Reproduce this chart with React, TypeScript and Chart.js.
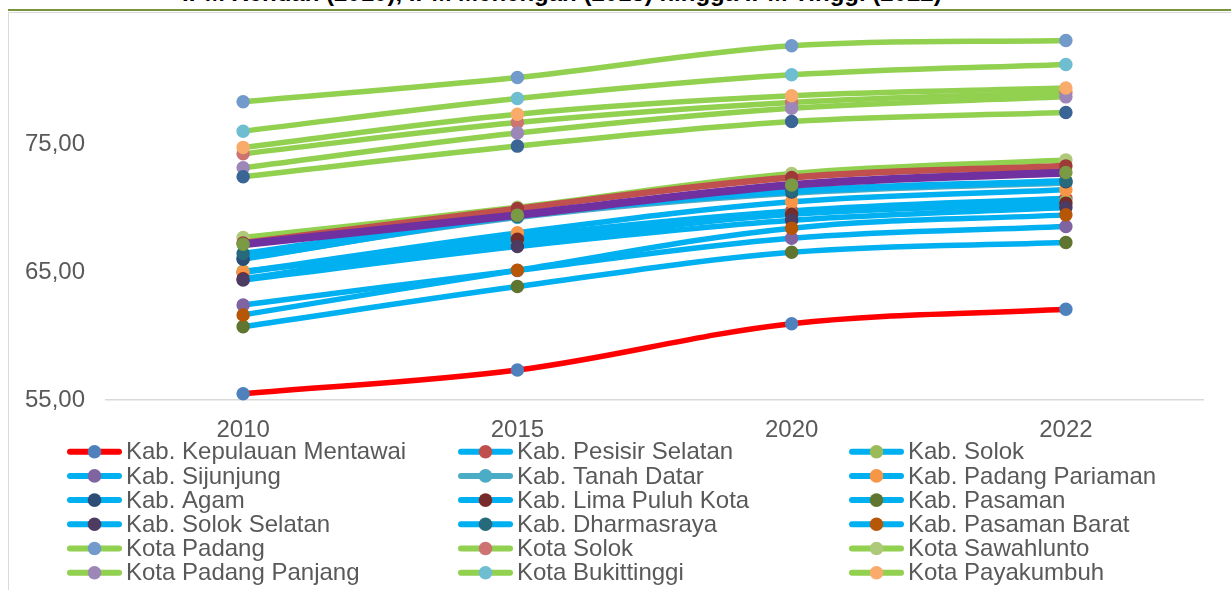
import React, { useEffect, useRef } from "react";
import { Chart, registerables } from "chart.js";

Chart.register(...registerables);

// ---------- data ----------
const years = ["2010", "2015", "2020", "2022"];
const yTickValues = [55, 65, 75];
const yMin = 55;
const yMax = 84;

const kepulauanMentawai = [55.49, 57.35, 60.98, 62.11];
const pesisirSelatan = [65.0, 67.8, 69.82, 70.82];
const kabSolok = [65.1, 67.3, 69.6, 70.6];
const sijunjung = [62.45, 65.15, 67.68, 68.6];
const tanahDatar = [66.1, 69.3, 71.2, 72.0];
const padangPariaman = [65.04, 68.1, 70.53, 71.47];
const agam = [66.03, 69.4, 71.3, 72.1];
const limaPuluhKota = [64.5, 67.6, 69.56, 70.43];
const pasaman = [60.75, 63.89, 66.58, 67.34];
const solokSelatan = [64.41, 67.03, 69.09, 70.08];
const dharmasraya = [66.48, 69.45, 71.4, 72.18];
const pasamanBarat = [61.67, 65.17, 68.47, 69.51];
const kotaPadang = [78.37, 80.28, 82.76, 83.18];
const kotaSolok = [74.3, 76.75, 78.32, 79.1];
const kotaSawahlunto = [67.73, 70.1, 72.75, 73.82];
const kotaPadangPanjang = [73.2, 75.92, 77.87, 78.76];
const kotaBukittinggi = [76.07, 78.63, 80.49, 81.3];
const kotaPayakumbuh = [74.8, 77.4, 78.84, 79.45];
const kotaPariaman = [72.5, 74.9, 76.83, 77.53];
const sumateraBarat = [67.3, 70.0, 72.44, 73.35];
const indonesia = [67.2, 69.49, 71.86, 72.83];

const FONT = '"Liberation Sans", Arial, sans-serif';
const TEXT = "#595959";
const CYAN = "#00B0F0";
const GREEN = "#92D050";

type Series = {
  name: string;
  values: number[];
  line: string;
  marker: string;
  width: number;
  inLegend: boolean;
};

const series: Series[] = [
  { name: "Kab. Kepulauan Mentawai", values: kepulauanMentawai, line: "#FF0000", marker: "#4F81BD", width: 5.5, inLegend: true },
  { name: "Kab. Pesisir Selatan", values: pesisirSelatan, line: CYAN, marker: "#C0504D", width: 5.5, inLegend: true },
  { name: "Kab. Solok", values: kabSolok, line: CYAN, marker: "#9BBB59", width: 5.5, inLegend: true },
  { name: "Kab. Sijunjung", values: sijunjung, line: CYAN, marker: "#8064A2", width: 5.5, inLegend: true },
  { name: "Kab. Tanah Datar", values: tanahDatar, line: "#4BACC6", marker: "#4BACC6", width: 5.5, inLegend: true },
  { name: "Kab. Padang Pariaman", values: padangPariaman, line: CYAN, marker: "#F79646", width: 5.5, inLegend: true },
  { name: "Kab. Agam", values: agam, line: CYAN, marker: "#2C4D75", width: 5.5, inLegend: true },
  { name: "Kab. Lima Puluh Kota", values: limaPuluhKota, line: CYAN, marker: "#772C2A", width: 5.5, inLegend: true },
  { name: "Kab. Pasaman", values: pasaman, line: CYAN, marker: "#5F7530", width: 5.5, inLegend: true },
  { name: "Kab. Solok Selatan", values: solokSelatan, line: CYAN, marker: "#4D3B62", width: 5.5, inLegend: true },
  { name: "Kab. Dharmasraya", values: dharmasraya, line: CYAN, marker: "#276A7C", width: 5.5, inLegend: true },
  { name: "Kab. Pasaman Barat", values: pasamanBarat, line: CYAN, marker: "#B65708", width: 5.5, inLegend: true },
  { name: "Kota Padang", values: kotaPadang, line: GREEN, marker: "#729ACA", width: 5.5, inLegend: true },
  { name: "Kota Solok", values: kotaSolok, line: GREEN, marker: "#CD7371", width: 5.5, inLegend: true },
  { name: "Kota Sawahlunto", values: kotaSawahlunto, line: GREEN, marker: "#AFC97A", width: 5.5, inLegend: true },
  { name: "Kota Padang Panjang", values: kotaPadangPanjang, line: GREEN, marker: "#9C87B8", width: 5.5, inLegend: true },
  { name: "Kota Bukittinggi", values: kotaBukittinggi, line: GREEN, marker: "#6FBDD1", width: 5.5, inLegend: true },
  { name: "Kota Payakumbuh", values: kotaPayakumbuh, line: GREEN, marker: "#F9AB6B", width: 5.5, inLegend: true },
  { name: "Kota Pariaman", values: kotaPariaman, line: GREEN, marker: "#3A6596", width: 5.5, inLegend: false },
  { name: "Sumatera Barat", values: sumateraBarat, line: "#C0504D", marker: "#9E3A38", width: 6.5, inLegend: false },
  { name: "Indonesia", values: indonesia, line: "#7030A0", marker: "#7A9A43", width: 8, inLegend: false },
];

const gridLegend = {
  id: "gridLegend",
  afterDraw(chart: any) {
    const { ctx, chartArea } = chart;
    const items = chart.data.datasets.filter((d: any) => d.inLegend);
    ctx.save();
    ctx.font = `24px ${FONT}`;
    ctx.textBaseline = "middle";
    ctx.textAlign = "left";
    items.forEach((ds: any, i: number) => {
      const col = i % 3;
      const row = Math.floor(i / 3);
      const x = chartArea.left - 39 + col * 391;
      const y = chartArea.bottom + 51.7 + row * 24.2;
      ctx.lineCap = "round";
      ctx.lineWidth = 6;
      ctx.strokeStyle = ds.borderColor;
      ctx.beginPath();
      ctx.moveTo(x + 3, y);
      ctx.lineTo(x + 52, y);
      ctx.stroke();
      ctx.fillStyle = ds.pointBackgroundColor;
      ctx.beginPath();
      ctx.arc(x + 27.5, y, 6.8, 0, Math.PI * 2);
      ctx.fill();
      ctx.fillStyle = TEXT;
      ctx.fillText(ds.label, x + 59, y + 1);
    });
    ctx.restore();
  },
};

export default function App() {
  const canvasRef = useRef<HTMLCanvasElement | null>(null);

  useEffect(() => {
    if (!canvasRef.current) return;
    const n = series.length;
    const chart = new Chart(canvasRef.current, {
      type: "line",
      data: {
        labels: years,
        datasets: series.map((s, i) => ({
          label: s.name,
          data: s.values,
          borderColor: s.line,
          backgroundColor: s.line,
          borderWidth: s.width,
          pointBackgroundColor: s.marker,
          pointBorderColor: s.marker,
          pointBorderWidth: 1.5,
          pointRadius: 6,
          pointHoverRadius: 6,
          tension: 0.35,
          fill: false,
          clip: false,
          order: n - i,
          inLegend: s.inLegend,
        })) as any,
      },
      options: {
        responsive: false,
        animation: false,
        devicePixelRatio: 1,
        layout: { padding: { left: 0, right: 28, top: 17, bottom: 150 } },
        plugins: {
          legend: { display: false },
          tooltip: { enabled: false },
          title: { display: false },
        },
        scales: {
          x: {
            type: "category",
            offset: true,
            grid: { display: false, drawTicks: false, tickLength: 0 },
            border: { display: true, color: "#D9D9D9", width: 1.5 },
            ticks: { color: TEXT, font: { family: FONT, size: 24 }, padding: 16, maxRotation: 0 },
            afterFit: (scale: any) => {
              scale.height = 40;
              scale.paddingLeft = 0;
              scale.paddingRight = 0;
            },
          },
          y: {
            type: "linear",
            min: yMin,
            max: yMax,
            grid: { display: false, drawTicks: false, tickLength: 0 },
            border: { display: false },
            ticks: {
              color: TEXT,
              font: { family: FONT, size: 24 },
              padding: 21,
              callback: (v: any) => Number(v).toFixed(2).replace(".", ","),
            },
            afterBuildTicks: (scale: any) => {
              scale.ticks = yTickValues.map((v) => ({ value: v }));
            },
            afterFit: (scale: any) => {
              scale.width = 97;
              scale.paddingTop = 0;
              scale.paddingBottom = 0;
            },
          },
        },
      },
      plugins: [gridLegend],
    });
    return () => chart.destroy();
  }, []);

  return (
    <div
      style={{
        position: "fixed",
        left: 0,
        top: 0,
        width: 1231,
        height: 590,
        overflow: "hidden",
        background: "#FFFFFF",
      }}
    >
      <div
        style={{
          position: "absolute",
          top: -19,
          left: 182,
          whiteSpace: "nowrap",
          font: `bold 24px ${FONT}`,
          lineHeight: "24px",
          color: "#000000",
        }}
      >
        IPM Rendah (2010), IPM Menengah (2015) hingga IPM Tinggi (2022)
      </div>
      <div
        style={{
          position: "absolute",
          left: 8,
          top: 9,
          width: 1240,
          height: 2,
          background: "#77933C",
        }}
      />
      <div
        style={{
          position: "absolute",
          left: 8,
          top: 12,
          width: 1240,
          height: 600,
          borderLeft: "1px solid #D9D9D9",
          borderTop: "1px solid #D9D9D9",
        }}
      />
      <canvas
        ref={canvasRef}
        width={1222}
        height={577}
        style={{ position: "absolute", left: 9, top: 13, width: 1222, height: 577 }}
      />
    </div>
  );
}
